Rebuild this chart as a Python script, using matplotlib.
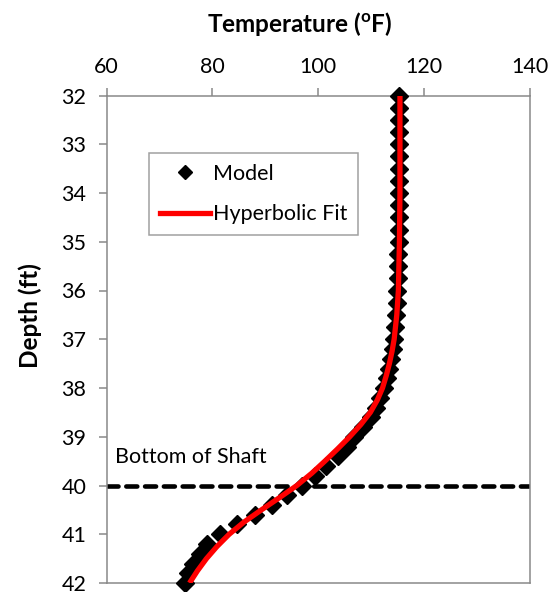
import matplotlib
matplotlib.use("Agg")
import matplotlib.pyplot as plt
from matplotlib.lines import Line2D

plt.rcParams['font.family'] = ['Lato', 'DejaVu Sans']
plt.rcParams['mathtext.fontset'] = 'custom'
plt.rcParams['mathtext.rm'] = 'Lato'
plt.rcParams['mathtext.bf'] = 'Lato:bold'

# ====================== data ======================
depth_model = [32.0, 32.25, 32.5, 32.75, 33.0, 33.25, 33.5, 33.75, 34.0, 34.25,
               34.5, 34.75, 35.0, 35.25, 35.5, 35.75, 36.0, 36.25, 36.5, 36.75,
               37.0, 37.2, 37.4, 37.6, 37.8, 38.0, 38.2, 38.4, 38.6, 38.8,
               39.0, 39.2, 39.4, 39.6, 39.8, 40.0, 40.2, 40.4, 40.6, 40.8,
               41.0, 41.2, 41.4, 41.6, 41.8, 42.0]
temp_model = [115.4, 115.4, 115.4, 115.4, 115.4, 115.4, 115.4, 115.4, 115.4, 115.4,
              115.3, 115.3, 115.3, 115.2, 115.2, 115.1, 115.0, 114.9, 114.7, 114.5,
              114.3, 114.1, 113.8, 113.4, 113.0, 112.5, 111.8, 111.0, 110.0, 108.5,
              106.8, 105.5, 103.7, 101.6, 99.4, 97.0, 94.2, 91.3, 88.1, 84.6,
              81.5, 79.1, 77.6, 76.4, 75.5, 74.9]

depth_fit = [32.0, 33.0, 34.0, 35.0, 35.5, 36.0, 36.5, 37.0, 37.25, 37.5,
             37.75, 38.0, 38.25, 38.5, 38.75, 39.0, 39.25, 39.5, 39.75, 40.0,
             40.25, 40.5, 40.75, 41.0, 41.25, 41.5, 41.75, 42.0]
temp_fit = [115.5, 115.5, 115.5, 115.4, 115.3, 115.2, 114.9, 114.4, 114.0, 113.5,
            112.9, 112.2, 111.2, 109.9, 108.1, 106.0, 103.7, 101.3, 98.8, 96.0,
            92.7, 89.3, 86.0, 83.2, 80.9, 78.9, 77.2, 75.7]

shaft_bottom = 40
x_ticks = [60, 80, 100, 120, 140]
y_ticks = [32, 33, 34, 35, 36, 37, 38, 39, 40, 41, 42]

grey = '#898989'

# ====================== plot ======================
fig = plt.figure(figsize=(5.58, 5.92), dpi=100)
ax = fig.add_axes([106.5 / 558, 1 - 583 / 592, 423 / 558, 487.5 / 592])

ax.plot(temp_model, depth_model, linestyle='none', marker='D', markersize=9,
        color='black', zorder=3, clip_on=False)
ax.plot(temp_fit, depth_fit, color='#ff0000', lw=3.8, zorder=4,
        solid_capstyle='butt')
ax.axhline(shaft_bottom, color='black', lw=3.3, linestyle=(0, (2.4, 1.7)),
           dash_capstyle='round', zorder=2)

ax.set_xlim(60, 140)
ax.set_ylim(42, 32)
ax.set_xticks(x_ticks)
ax.set_yticks(y_ticks)
ax.xaxis.tick_top()
ax.tick_params(axis='both', direction='out', length=5.5, width=1.1, color=grey,
               labelsize=15.5)
ax.tick_params(axis='x', pad=8)
ax.tick_params(axis='y', pad=9)
for s in ax.spines.values():
    s.set_color(grey)
    s.set_linewidth(1.1)

fig.text(300 / 558, 1 - 24 / 592, r'Temperature ($^{\mathbf{o}}$F)',
         ha='center', va='center', fontsize=17.5, fontweight='bold')
fig.text(30 / 558, 1 - 316 / 592, 'Depth (ft)', rotation=90,
         ha='center', va='center', fontsize=17.5, fontweight='bold')

ax.text(61.6, 39.54, 'Bottom of Shaft', fontsize=15.5, va='baseline', ha='left')

handles = [Line2D([], [], linestyle='none', marker='D', markersize=7.3, color='black'),
           Line2D([], [], color='#ff0000', lw=3.8)]
leg = ax.legend(handles, ['Model', 'Hyperbolic Fit'], loc='upper left',
                bbox_to_anchor=(149 / 558, 1 - 153 / 592), bbox_transform=fig.transFigure,
                fontsize=15.5, frameon=True, fancybox=False, handlelength=2.35,
                handletextpad=0.12, borderpad=0.5, labelspacing=0.95,
                borderaxespad=0)
leg.get_frame().set_edgecolor(grey)
leg.get_frame().set_linewidth(1.1)

fig.savefig('out.png', dpi=100)
